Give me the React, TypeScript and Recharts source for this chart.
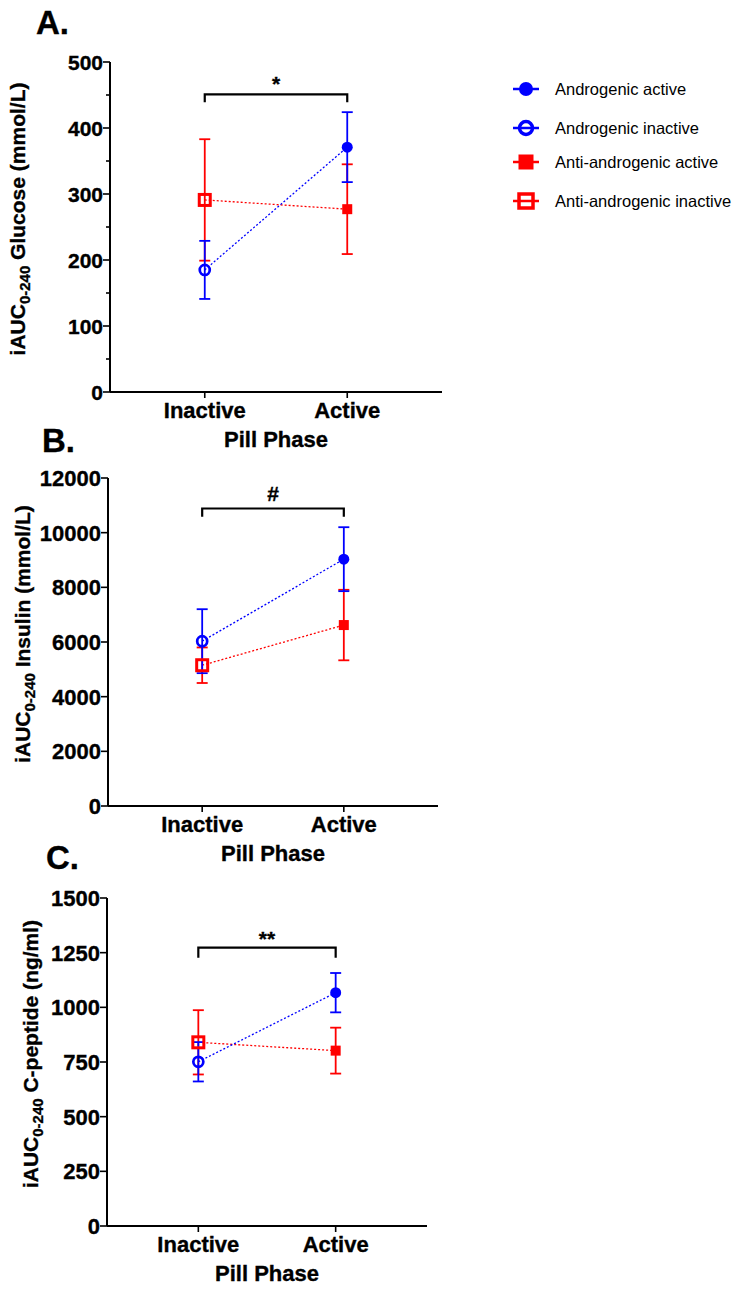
import React from "react";
import { ComposedChart, Line, XAxis, YAxis, ErrorBar, Legend, ReferenceDot, Label } from "recharts";

const FONT = "'Liberation Sans', Arial, Helvetica, sans-serif";
const BLUE = "#0000ff";
const RED = "#ff0000";
const W = 742;

const phases = ["Inactive", "Active"];
const legendLabels = ["Androgenic active", "Androgenic inactive", "Anti-androgenic active", "Anti-androgenic inactive"];

// A. glucose iAUC (mean ± SEM)
const glucoseAndro = [185, 371];
const glucoseAndroSem = [44, 53];
const glucoseAnti = [291, 277];
const glucoseAntiSem = [92, 68];
const glucoseTicks = [0, 100, 200, 300, 400, 500];
const glucoseMinor = [50, 150, 250, 350, 450];
const glucoseBracket = [439, 451]; // foot, bar
const glucoseMark = 474;

// B. insulin iAUC
const insulinAndro = [6030, 9030];
const insulinAndroSem = [1170, 1170];
const insulinAnti = [5150, 6620];
const insulinAntiSem = [650, 1290];
const insulinTicks = [0, 2000, 4000, 6000, 8000, 10000, 12000];
const insulinBracket = [10580, 10884];
const insulinMark = 11415;

// C. C-peptide iAUC
const cpepAndro = [751, 1067];
const cpepAndroSem = [90, 90];
const cpepAnti = [840, 802];
const cpepAntiSem = [147, 105];
const cpepTicks = [0, 250, 500, 750, 1000, 1250, 1500];
const cpepBracket = [1227, 1273];
const cpepMark = 1335;

type Pt = { x: number; y: number; err: number };
const toPoints = (vals: number[], sem: number[]): Pt[] => vals.map((v, i) => ({ x: i, y: v, err: sem[i] }));
const bracketPoints = ([foot, bar]: number[]) => [
  { x: 0, y: foot },
  { x: 0, y: bar },
  { x: 1, y: bar },
  { x: 1, y: foot },
];

// bold text drawn a touch heavier, like the GraphPad export
const boldText = { fontFamily: FONT, fontWeight: "bold" as const, fill: "#000", stroke: "#000", strokeWidth: 0.35 };

function Marker({ cx, cy, color, square, open, big }: any) {
  if (square) {
    const s = open ? (big ? 14 : 11) : big ? 15 : 10;
    return (
      <rect
        x={cx - s / 2}
        y={cy - s / 2}
        width={s}
        height={s}
        fill={open ? "none" : color}
        stroke={open ? color : "none"}
        strokeWidth={open ? (big ? 3.5 : 3) : 0}
      />
    );
  }
  const r = open ? (big ? 6.5 : 5) : big ? 7 : 5.5;
  return (
    <circle
      cx={cx}
      cy={cy}
      r={r}
      fill={open ? "none" : color}
      stroke={open ? color : "none"}
      strokeWidth={open ? (big ? 3.5 : 2.7) : 0}
    />
  );
}

const renderLegend = () => (
  <svg width={240} height={150} style={{ display: "block" }}>
    {legendLabels.map((label, i) => {
      const cy = [19, 58, 92, 131][i];
      const isAndro = i < 2;
      const color = isAndro ? BLUE : RED;
      return (
        <g key={label}>
          <line x1={8} x2={34} y1={cy} y2={cy} stroke={color} strokeWidth={2.5} />
          <Marker cx={21} cy={cy} color={color} square={!isAndro} open={i % 2 === 1} big />
          <text x={50} y={cy + 6} fontFamily={FONT} fontSize={16.5} fill="#000">
            {label}
          </text>
        </g>
      );
    })}
  </svg>
);

type PanelProps = {
  letter: string;
  letterX: number;
  letterY: number;
  top: number;
  height: number;
  plotTop: number;
  plotBottom: number;
  plotLeft: number;
  plotRight: number;
  yMax: number;
  ticks: number[];
  minor: number[];
  tickFont: number;
  name: string;
  labelX: number;
  andro: number[];
  androSem: number[];
  anti: number[];
  antiSem: number[];
  bracket: number[];
  mark: string;
  markY: number;
  legend?: boolean;
};

function Panel(p: PanelProps) {
  const majors = p.ticks;
  const allTicks = [...p.ticks, ...p.minor].sort((a, b) => a - b);
  const xAxisH = 60;
  const pt = p.plotTop - p.top;
  const pb = p.plotBottom - p.top;
  const margin = { top: pt, left: 0, right: W - p.plotRight, bottom: p.height - pb - xAxisH };
  const midX = (p.plotLeft + p.plotRight) / 2;
  const midY = (pt + pb) / 2 - 8;

  const dot = (color: string, square: boolean) => (props: any) => {
    const isInactive = phases[props.payload.x] === "Inactive";
    return (
      <Marker key={`d-${props.index}`} cx={props.cx} cy={props.cy} color={color} square={square} open={isInactive} />
    );
  };

  const YTick = (props: any) => {
    const { x, y, payload } = props;
    const major = majors.includes(payload.value);
    return (
      <g>
        <line x1={x - (major ? 7 : 4)} x2={x} y1={y} y2={y} stroke="#000" strokeWidth={1.6} />
        {major && (
          <text x={x - 7} y={y + p.tickFont * 0.36} textAnchor="end" fontSize={p.tickFont} {...boldText}>
            {payload.value}
          </text>
        )}
      </g>
    );
  };

  const XTick = (props: any) => {
    const { x, y, payload } = props;
    return (
      <g>
        <line x1={x} x2={x} y1={y} y2={y + 6} stroke="#000" strokeWidth={1.6} />
        <text x={x} y={y + 26} textAnchor="middle" fontSize={22} {...boldText}>
          {phases[payload.value]}
        </text>
      </g>
    );
  };

  const markOffset = p.mark.startsWith("*") ? 12 : 7;

  return (
    <div style={{ position: "absolute", left: 0, top: p.top }}>
      <ComposedChart width={W} height={p.height} margin={margin}>
        <XAxis
          type="number"
          dataKey="x"
          domain={[-0.665, 1.665]}
          ticks={[0, 1]}
          height={xAxisH}
          tickSize={0}
          tickMargin={0}
          tickLine={false}
          axisLine={{ stroke: "#000", strokeWidth: 2 }}
          tick={<XTick />}
          allowDataOverflow
        >
          <Label
            content={() => (
              <text x={midX} y={pb + 54.5} textAnchor="middle" fontSize={22} {...boldText}>
                Pill Phase
              </text>
            )}
          />
        </XAxis>
        <YAxis
          type="number"
          domain={[0, p.yMax]}
          ticks={allTicks}
          width={p.plotLeft}
          tickSize={0}
          tickMargin={0}
          tickLine={false}
          axisLine={{ stroke: "#000", strokeWidth: 2 }}
          tick={<YTick />}
          interval={0}
          allowDataOverflow
        >
          <Label
            content={() => (
              <text
                x={p.labelX}
                y={midY}
                transform={`rotate(-90 ${p.labelX} ${midY})`}
                textAnchor="middle"
                fontSize={21}
                {...boldText}
              >
                iAUC
                <tspan fontSize={15} dy={5}>
                  0-240
                </tspan>
                <tspan dy={-5}>{" " + p.name}</tspan>
              </text>
            )}
          />
          <Label
            content={() => (
              <text x={p.letterX} y={p.letterY - p.top} fontSize={33} {...boldText}>
                {p.letter}
              </text>
            )}
          />
        </YAxis>
        <Line
          data={toPoints(p.anti, p.antiSem)}
          dataKey="y"
          stroke={RED}
          strokeWidth={1.3}
          strokeDasharray="2 2"
          dot={dot(RED, true)}
          activeDot={false}
          isAnimationActive={false}
        >
          <ErrorBar dataKey="err" direction="y" width={5.5} stroke={RED} strokeWidth={1.8} />
        </Line>
        <Line
          data={toPoints(p.andro, p.androSem)}
          dataKey="y"
          stroke={BLUE}
          strokeWidth={1.3}
          strokeDasharray="2 2"
          dot={dot(BLUE, false)}
          activeDot={false}
          isAnimationActive={false}
        >
          <ErrorBar dataKey="err" direction="y" width={5.5} stroke={BLUE} strokeWidth={1.8} />
        </Line>
        <Line
          data={bracketPoints(p.bracket)}
          dataKey="y"
          stroke="#000"
          strokeWidth={2.2}
          dot={false}
          activeDot={false}
          isAnimationActive={false}
        />
        <ReferenceDot
          x={0.5}
          y={p.markY}
          r={1}
          fill="none"
          stroke="none"
          label={(props: any) => (
            <text
              x={props.viewBox.x + 1}
              y={props.viewBox.y + 1 + markOffset}
              textAnchor="middle"
              fontSize={21}
              {...boldText}
            >
              {p.mark}
            </text>
          )}
        />
        {p.legend && (
          <Legend
            layout="vertical"
            align="center"
            verticalAlign="middle"
            content={renderLegend}
            wrapperStyle={{ left: 505, top: 70, width: 240, height: 150 }}
          />
        )}
      </ComposedChart>
    </div>
  );
}

export default function App() {
  return (
    <div style={{ position: "absolute", left: 0, top: 0, width: W, height: 1289, background: "#fff" }}>
      <Panel
        letter="A."
        letterX={36}
        letterY={34}
        top={0}
        height={470}
        plotTop={62}
        plotBottom={392}
        plotLeft={110}
        plotRight={442}
        yMax={500}
        ticks={glucoseTicks}
        minor={glucoseMinor}
        tickFont={21}
        name="Glucose (mmol/L)"
        labelX={25}
        andro={glucoseAndro}
        androSem={glucoseAndroSem}
        anti={glucoseAnti}
        antiSem={glucoseAntiSem}
        bracket={glucoseBracket}
        mark="*"
        markY={glucoseMark}
        legend
      />
      <Panel
        letter="B."
        letterX={42}
        letterY={452}
        top={420}
        height={470}
        plotTop={478}
        plotBottom={806}
        plotLeft={108}
        plotRight={438}
        yMax={12000}
        ticks={insulinTicks}
        minor={[]}
        tickFont={22}
        name="Insulin (mmol/L)"
        labelX={30}
        andro={insulinAndro}
        androSem={insulinAndroSem}
        anti={insulinAnti}
        antiSem={insulinAntiSem}
        bracket={insulinBracket}
        mark="#"
        markY={insulinMark}
      />
      <Panel
        letter="C."
        letterX={46}
        letterY={869}
        top={840}
        height={449}
        plotTop={898}
        plotBottom={1226}
        plotLeft={107}
        plotRight={427}
        yMax={1500}
        ticks={cpepTicks}
        minor={[]}
        tickFont={22}
        name="C-peptide (ng/ml)"
        labelX={38}
        andro={cpepAndro}
        androSem={cpepAndroSem}
        anti={cpepAnti}
        antiSem={cpepAntiSem}
        bracket={cpepBracket}
        mark="**"
        markY={cpepMark}
      />
    </div>
  );
}
